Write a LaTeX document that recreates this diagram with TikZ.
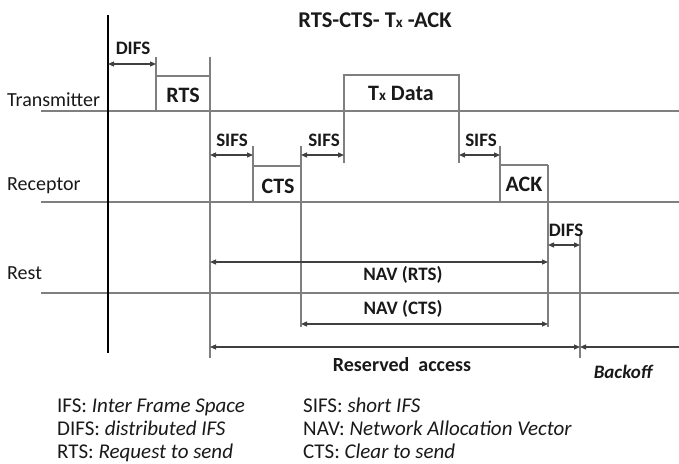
\documentclass[tikz,border=0pt]{standalone}
\usepackage{fontspec}
\setmainfont{Carlito}
\usetikzlibrary{arrows.meta}
\definecolor{lgray}{HTML}{7F7F7F}
\tikzset{
  axis/.style={draw=lgray, line width=1.8pt},
  frame/.style={draw=lgray, line width=1.6pt},
  dim/.style={draw=black!75, line width=1.2pt, {Triangle[length=6pt,width=5pt]}-{Triangle[length=6pt,width=5pt]}},
  dimL/.style={draw=black!75, line width=1.2pt, {Triangle[length=6pt,width=5pt]}-},
  lbl/.style={font=\fontsize{20}{22}\selectfont, inner sep=0pt, text=black!90},
  tag/.style={font=\fontsize{19}{21}\selectfont\bfseries, inner sep=0pt, text=black!90},
  box/.style={font=\fontsize{22}{24}\selectfont\bfseries, inner sep=0pt, text=black!90},
  leg/.style={font=\fontsize{21}{23}\selectfont, inner sep=0pt, anchor=base west, text=black!90},
}
\begin{document}
\begin{tikzpicture}[x=1pt,y=-1pt]
\useasboundingbox (0,0) rectangle (679,463);
% title
\node[box, font=\fontsize{22.5}{24}\selectfont\bfseries] (title) at (375,20) {RTS-CTS- T{\fontsize{15}{16}\selectfont x} -ACK};
% row labels
\node[lbl, anchor=west] (tr) at (7,100) {Transmitter};
\node[lbl, anchor=west] (rc) at (7,186) {Receptor};
\node[lbl, anchor=west] (rs) at (7,273) {Rest};
% coordinates
\coordinate (t0) at (41,111); \coordinate (t1) at (679,111);
\coordinate (r0) at (41,202); \coordinate (r1) at (679,202);
\coordinate (s0) at (41,293); \coordinate (s1) at (679,293);
\coordinate (b0) at (108,15); \coordinate (b1) at (108,353);
\draw[axis] (t0) -- (t1);
\draw[axis] (r0) -- (r1);
\draw[axis] (s0) -- (s1);
\draw[black, line width=2.4pt] (b0) -- (b1);
% RTS
\coordinate (rtsA) at (156,57); \coordinate (rtsB) at (156,111);
\coordinate (rtsC) at (210,57); \coordinate (rtsD) at (210,358);
\draw[frame] (rtsA) -- (rtsB);
\draw[frame] (rtsC) -- (rtsD);
\draw[frame] (156,76) -- (210,76);
\node[box] (rts) at (183,95) {RTS};
% CTS
\coordinate (ctsA) at (253,146); \coordinate (ctsB) at (253,202);
\coordinate (ctsC) at (301,146); \coordinate (ctsD) at (301,327);
\draw[frame] (ctsA) -- (ctsB);
\draw[frame] (ctsC) -- (ctsD);
\draw[frame] (253,166) -- (301,166);
\node[box] (cts) at (278,186) {CTS};
% Tx Data
\coordinate (txA) at (344,75); \coordinate (txB) at (344,163);
\coordinate (txC) at (459,75); \coordinate (txD) at (459,163);
\draw[frame] (txB) -- (txA) -- (txC) -- (txD);
\node[box] (tx) at (401,93) {T{\fontsize{15}{16}\selectfont x} Data};
% ACK
\coordinate (ackA) at (500,146); \coordinate (ackB) at (500,202);
\coordinate (ackC) at (548,165); \coordinate (ackD) at (548,327);
\draw[frame] (ackA) -- (ackB);
\draw[frame] (ackC) -- (ackD);
\draw[frame] (500,165) -- (548,165);
\node[box] (ack) at (524,184) {ACK};
% DIFS2 tick
\coordinate (dA) at (580,235); \coordinate (dB) at (580,358);
\draw[frame] (dA) -- (dB);
% dimension arrows
\coordinate (d1a) at (108,64); \coordinate (d1b) at (156,64);
\draw[dim] (d1a) -- (d1b);
\node[tag] (difs1) at (133,48) {DIFS};
\coordinate (s1a) at (210,155); \coordinate (s1b) at (253,155);
\draw[dim] (s1a) -- (s1b);
\node[tag] (sifs1) at (232,140) {SIFS};
\coordinate (s2a) at (301,155); \coordinate (s2b) at (344,155);
\draw[dim] (s2a) -- (s2b);
\node[tag] (sifs2) at (324,140) {SIFS};
\coordinate (s3a) at (459,155); \coordinate (s3b) at (500,155);
\draw[dim] (s3a) -- (s3b);
\node[tag] (sifs3) at (481,140) {SIFS};
\coordinate (d2a) at (548,245); \coordinate (d2b) at (580,245);
\draw[dim] (d2a) -- (d2b);
\node[tag] (difs2) at (566,230) {DIFS};
\coordinate (n1a) at (210,262); \coordinate (n1b) at (548,262);
\draw[dim] (n1a) -- (n1b);
\node[tag] (navrts) at (403,275) {NAV (RTS)};
\coordinate (n2a) at (301,324); \coordinate (n2b) at (548,324);
\draw[dim] (n2a) -- (n2b);
\node[tag] (navcts) at (403,309) {NAV (CTS)};
\coordinate (raa) at (210,347); \coordinate (rab) at (580,347);
\draw[dim] (raa) -- (rab);
\node[tag, font=\fontsize{20}{22}\selectfont\bfseries] (res) at (402,365) {Reserved\ \ access};
\coordinate (bo) at (679,347);
\draw[dimL] (rab) -- (bo);
\node[tag, font=\fontsize{19}{21}\selectfont\bfseries\itshape] (backoff) at (623,372) {Backoff};
% legend
\node[leg] (l1) at (57,412) {IFS: \textit{Inter Frame Space}};
\node[leg] (l2) at (57,435) {DIFS: \textit{distributed IFS}};
\node[leg] (l3) at (57,458) {RTS: \textit{Request to send}};
\node[leg] (l4) at (303,412) {SIFS: \textit{short IFS}};
\node[leg] (l5) at (303,435) {NAV: \textit{Network Allocation Vector}};
\node[leg] (l6) at (303,458) {CTS: \textit{Clear to send}};
\end{tikzpicture}
\end{document}
